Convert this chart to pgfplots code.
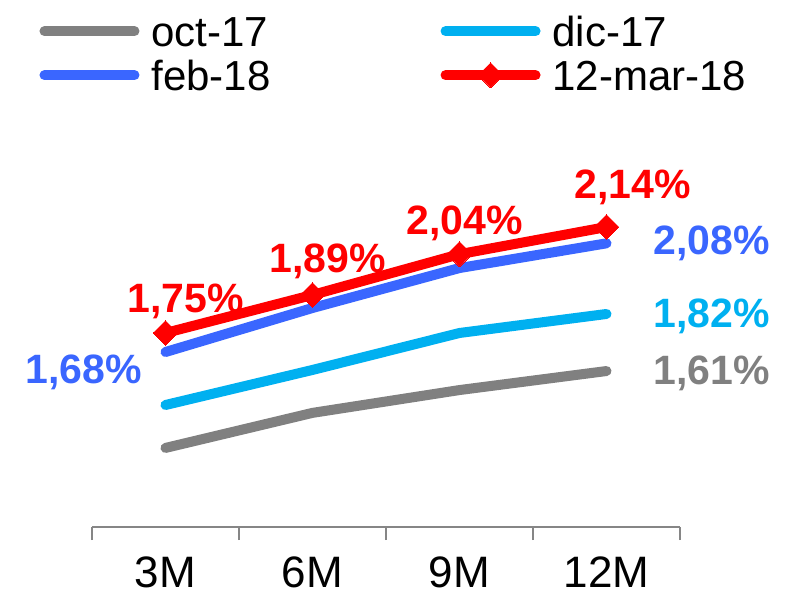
\documentclass[border=0pt]{standalone}
\usepackage{fontspec}
\setmainfont{Liberation Sans}
\usepackage{pgfplots}
\pgfplotsset{compat=1.18}
\definecolor{cGray}{HTML}{808080}
\definecolor{cCyan}{HTML}{00B0F0}
\definecolor{cBlue}{HTML}{3A66FF}
\definecolor{cRed}{HTML}{FF0000}
\definecolor{cAxis}{HTML}{868686}

\begin{document}
\begin{tikzpicture}
\useasboundingbox (-46pt,-34pt) rectangle (347pt,263.5pt);
\begin{axis}[
  at={(0,0)}, anchor=south west,
  scale only axis,
  width=294pt, height=198.9pt,
  xmin=0.5, xmax=4.5,
  ymin=1.036, ymax=2.50,
  clip=false,
  axis x line*=bottom,
  axis y line=none,
  axis line style={cAxis, line width=1.4pt, -},
  xtick={1,2,3,4},
  xticklabels={3M,6M,9M,12M},
  major tick length=0pt,
  minor xtick={0.5,1.5,2.5,3.5,4.5},
  minor tick length=6.5pt,
  tick align=outside,
  minor tick style={cAxis, line width=1.4pt},
  xticklabel style={font=\fontsize{22}{26}\selectfont, yshift=-11.5pt},
  ytick=\empty,
  legend columns=2,
  legend cell align=left,
  legend style={
    at={(-0.090,1.29)}, anchor=north west,
    draw=none, fill=none, inner sep=0pt,
    font=\fontsize{21}{25}\selectfont,
    nodes={inner sep=1pt, text height=15pt, text depth=0pt},
    row sep=5pt,
    /tikz/every odd column/.append style={column sep=5pt},
    /tikz/every even column/.append style={column sep=84pt},
  },
  legend image code/.code={
    \draw[mark repeat=2, mark phase=2, #1]
      plot coordinates {(0pt,0pt) (22.5pt,0pt) (45pt,0pt)};
  },
  every axis plot/.append style={line width=5pt, line cap=round, line join=round},
]
\addplot[cGray, no markers] coordinates {(1,1.327) (2,1.456) (3,1.540) (4,1.61)};
\addlegendentry{oct-17}
\addplot[cCyan, no markers] coordinates {(1,1.485) (2,1.614) (3,1.750) (4,1.82)};
\addlegendentry{dic-17}
\addplot[cBlue, no markers] coordinates {(1,1.68) (2,1.842) (3,1.989) (4,2.08)};
\addlegendentry{feb-18}
\addplot[cRed, mark=square*, mark size=4.4pt, mark options={rotate=45, line width=0pt}] coordinates {(1,1.75) (2,1.89) (3,2.04) (4,2.14)};
\addlegendentry{12-mar-18}

\begin{scope}[font=\fontsize{20.5}{24}\selectfont\bfseries]
\node[text=cRed] at (axis cs:1,1.75) [xshift=10pt, yshift=16pt] {1,75\%};
\node[text=cRed] at (axis cs:2,1.89) [xshift=7.5pt, yshift=17pt] {1,89\%};
\node[text=cRed] at (axis cs:3,2.04) [xshift=2.5pt, yshift=15.5pt] {2,04\%};
\node[text=cRed] at (axis cs:4,2.14) [xshift=13pt, yshift=20pt] {2,14\%};
\node[text=cBlue] at (axis cs:4,2.08) [xshift=52.5pt, yshift=0pt] {2,08\%};
\node[text=cCyan] at (axis cs:4,1.82) [xshift=52.5pt, yshift=-1pt] {1,82\%};
\node[text=cGray] at (axis cs:4,1.61) [xshift=52.5pt, yshift=-1pt] {1,61\%};
\node[text=cBlue] at (axis cs:1,1.68) [xshift=-41pt, yshift=-10pt] {1,68\%};
\end{scope}
\end{axis}
\end{tikzpicture}
\end{document}
